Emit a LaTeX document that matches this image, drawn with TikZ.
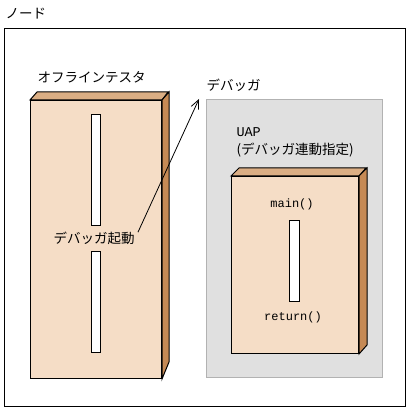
\documentclass[tikz,border=0pt]{standalone}
\usepackage{fontspec}
\setmainfont{Noto Sans CJK JP}
\newfontfamily\codefont{Liberation Mono}
\usetikzlibrary{arrows.meta}
\definecolor{facec}{RGB}{245,221,198}
\definecolor{topc}{RGB}{219,174,132}
\definecolor{sidec}{RGB}{198,138,85}
\definecolor{dbgfill}{RGB}{224,224,224}
\definecolor{dbgline}{RGB}{178,178,178}
\begin{document}
\begin{tikzpicture}[x=1pt,y=-1pt,line width=1pt,
  frontface/.style={draw=black,fill=facec,inner sep=0,anchor=north west},
  slotbox/.style={draw=black,fill=white,inner sep=0,anchor=north west},
  jlbl/.style={font=\fontsize{13.5}{15}\selectfont,inner sep=0},
  clbl/.style={font=\codefont\fontsize{12}{14}\selectfont,inner sep=0}]
\useasboundingbox (0,0) rectangle (411,411);
% outer node frame
\node[draw=black,inner sep=0,minimum width=401pt,minimum height=378pt,anchor=north west] (nodeframe) at (4,28) {};
\node[jlbl,anchor=west] (nodelbl) at (5,14) {ノード};
% debugger area
\node[draw=dbgline,fill=dbgfill,inner sep=0,minimum width=176pt,minimum height=278pt,anchor=north west] (dbg) at (206,99) {};
\node[jlbl,anchor=west] (dbglbl) at (206,85) {デバッガ};
% offline tester
\node[frontface,minimum width=131pt,minimum height=278pt] (tester) at (30,100) {};
\draw[fill=topc,line join=miter] (tester.north west) -- ++(7,-8) -- ++(131,0) -- (tester.north east) -- cycle;
\draw[fill=sidec] (tester.north east) -- ++(7,-8) -- ++(0,270) -- (tester.south east) -- cycle;
\node[slotbox,minimum width=9pt,minimum height=111pt] (tslot1) at (91,114) {};
\node[slotbox,minimum width=9pt,minimum height=101pt] (tslot2) at (91,251) {};
\node[jlbl,anchor=west] (testerlbl) at (37,77) {オフラインテスタ};
\node[jlbl,anchor=west] (launch) at (53,238) {デバッガ起動};
% UAP
\node[clbl,font=\codefont\fontsize{13.5}{15}\selectfont,anchor=west] (uaplbl) at (236,132) {UAP};
\node[jlbl,anchor=west] (uapnote) at (236,150) {(デバッガ連動指定)};
\node[frontface,minimum width=127pt,minimum height=177pt] (uap) at (231,176) {};
\draw[fill=topc] (uap.north west) -- ++(8,-8) -- ++(127,0) -- (uap.north east) -- cycle;
\draw[fill=sidec] (uap.north east) -- ++(8,-8) -- ++(0,177) -- (uap.south east) -- cycle;
\node[slotbox,minimum width=10pt,minimum height=81pt] (uslot) at (289,220) {};
\node[clbl] (mainlbl) at (292,204) {main()};
\node[clbl] (retlbl) at (293,317) {return()};
% arrow
\coordinate (tip) at (199,99);
\draw[line width=0.8pt,-{Straight Barb[length=9pt,width=8pt]}] ([xshift=3pt,yshift=-1pt]launch.north east) -- (tip);
\end{tikzpicture}
\end{document}
